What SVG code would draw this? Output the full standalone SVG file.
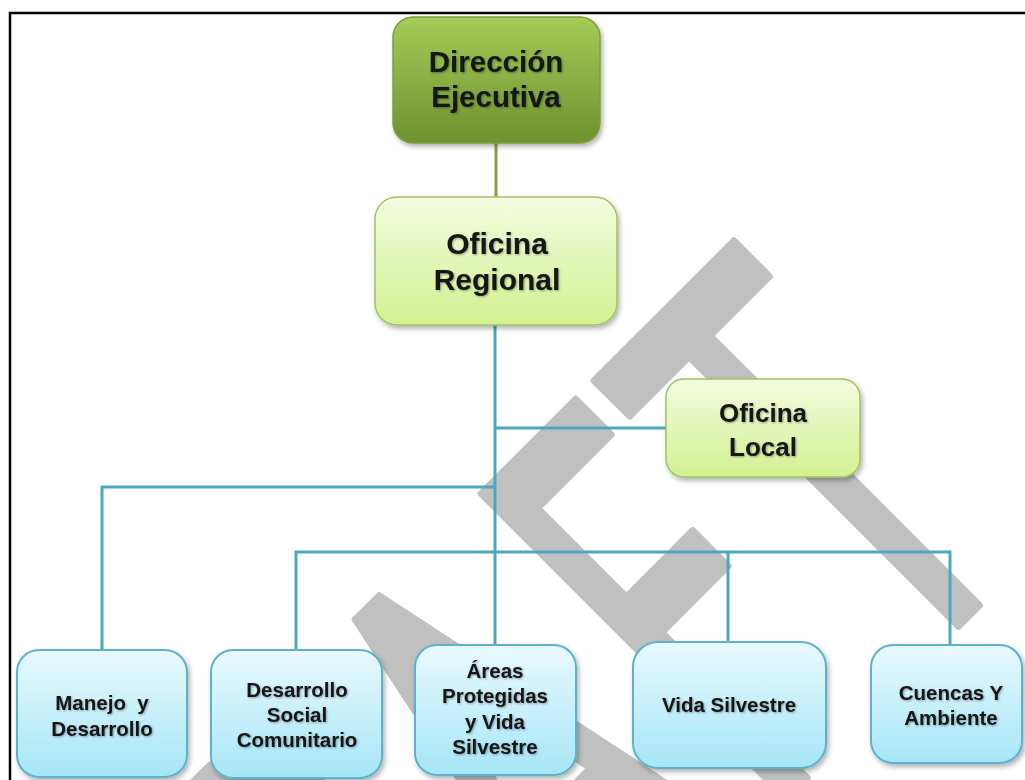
<svg xmlns="http://www.w3.org/2000/svg" width="1025" height="780" viewBox="0 0 1025 780">
<defs>
<linearGradient id="gDark" x1="0" y1="0" x2="0" y2="1"><stop offset="0" stop-color="#a5cb58"/><stop offset="1" stop-color="#6d922f"/></linearGradient>
<linearGradient id="gLight" x1="0" y1="0" x2="0" y2="1"><stop offset="0" stop-color="#f3fbdf"/><stop offset="1" stop-color="#d3f192"/></linearGradient>
<linearGradient id="gBlue" x1="0" y1="0" x2="0" y2="1"><stop offset="0" stop-color="#e9f9fd"/><stop offset="1" stop-color="#a6e6f7"/></linearGradient>
<filter id="sh" x="-10%" y="-10%" width="125%" height="130%"><feDropShadow dx="2" dy="3" stdDeviation="2.5" flood-color="#000" flood-opacity="0.3"/></filter>
<filter id="ts" x="-5%" y="-20%" width="110%" height="150%"><feDropShadow dx="1" dy="1" stdDeviation="1" flood-color="#000" flood-opacity="0.35"/></filter>
<style>
.wm{font-family:"DejaVu Sans",sans-serif;font-size:590px;fill:#c0c0c0;stroke:#c0c0c0;stroke-width:8;stroke-linejoin:round}
.bx{stroke-width:1.5}
.dk{fill:url(#gDark);stroke:#7f9f3c}
.lt{fill:url(#gLight);stroke:#a2c263}
.bl{fill:url(#gBlue);stroke:#5db3cb;stroke-width:2}
.t{font-family:"Liberation Sans",Arial,sans-serif;font-weight:bold;fill:#161616;text-anchor:middle}
.t29{font-size:29.5px}
.t30{font-size:30px}
.t26{font-size:26px}
.t20{font-size:20.5px}
.cb{fill:none;stroke:#4ea7c1;stroke-width:3}
.cg{fill:none;stroke:#8a9c4c;stroke-width:3}
</style>
</defs>
<rect width="1025" height="780" fill="#ffffff"/>
<g id="watermark">
<text class="wm" transform="rotate(-45) scale(0.55,1)" y="1120" x="-1375 -921 -511 -76 274">DRAFT</text>
</g>
<path d="M10,780 V13 H1025" fill="none" stroke="#000" stroke-width="2.5"/>
<g id="connectors">
<path class="cg" d="M496,143 V197"/>
<path class="cb" d="M495,325 V645 M495,428 H666 M102,650 V487 H495 M296,650 V552 H950 V645 M728,552 V642"/>
</g>
<g id="direccion-ejecutiva" filter="url(#sh)">
<rect class="bx dk" x="393" y="17" width="207" height="126" rx="20"/>
<text class="t t29" filter="url(#ts)"><tspan x="496" y="72">Dirección</tspan><tspan x="496" y="107">Ejecutiva</tspan></text>
</g>
<g id="oficina-regional" filter="url(#sh)">
<rect class="bx lt" x="375" y="197" width="242" height="128" rx="22"/>
<text class="t t30" filter="url(#ts)"><tspan x="497" y="254">Oficina</tspan><tspan x="497" y="290">Regional</tspan></text>
</g>
<g id="oficina-local" filter="url(#sh)">
<rect class="bx lt" x="666" y="379" width="194" height="98" rx="18"/>
<text class="t t26" filter="url(#ts)"><tspan x="763" y="422">Oficina</tspan><tspan x="763" y="456">Local</tspan></text>
</g>
<g id="manejo" filter="url(#sh)">
<rect class="bl" x="17" y="650" width="170" height="127" rx="22"/>
<text class="t t20" filter="url(#ts)" style="white-space:pre"><tspan x="102" y="710">Manejo  y</tspan><tspan x="102" y="736">Desarrollo</tspan></text>
</g>
<g id="desarrollo-social" filter="url(#sh)">
<rect class="bl" x="211" y="650" width="171" height="128" rx="22"/>
<text class="t t20" filter="url(#ts)"><tspan x="297" y="697">Desarrollo</tspan><tspan x="297" y="722">Social</tspan><tspan x="297" y="747">Comunitario</tspan></text>
</g>
<g id="areas-protegidas" filter="url(#sh)">
<rect class="bl" x="415" y="645" width="161" height="130" rx="22"/>
<text class="t t20" filter="url(#ts)"><tspan x="495" y="678">Áreas</tspan><tspan x="495" y="703">Protegidas</tspan><tspan x="495" y="729">y Vida</tspan><tspan x="495" y="754">Silvestre</tspan></text>
</g>
<g id="vida-silvestre" filter="url(#sh)">
<rect class="bl" x="633" y="642" width="193" height="126" rx="25"/>
<text class="t t20" filter="url(#ts)"><tspan x="729" y="712">Vida Silvestre</tspan></text>
</g>
<g id="cuencas" filter="url(#sh)">
<rect class="bl" x="871" y="645" width="151" height="118" rx="22"/>
<text class="t t20" filter="url(#ts)"><tspan x="951" y="700">Cuencas Y</tspan><tspan x="951" y="725">Ambiente</tspan></text>
</g>
</svg>
